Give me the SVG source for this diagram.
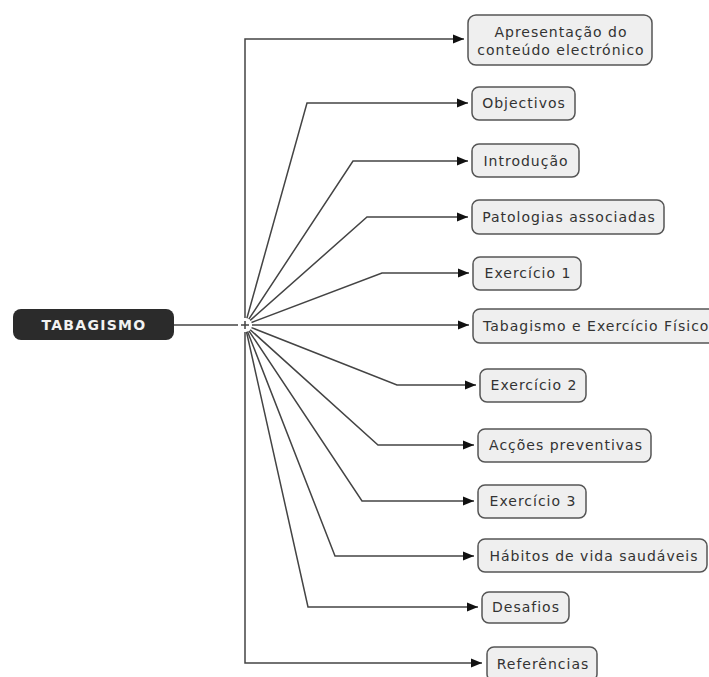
<svg xmlns="http://www.w3.org/2000/svg" width="709" height="677" viewBox="0 0 709 677">
<style>
.box{fill:#efefef;stroke:#555;stroke-width:1.5}
.t{font-family:"DejaVu Sans",Verdana,sans-serif;font-size:14px;letter-spacing:1px;fill:#333;text-anchor:middle}
.ln{fill:none;stroke:#444;stroke-width:1.5}
</style>
<defs>
<marker id="arr" markerUnits="userSpaceOnUse" markerWidth="12" markerHeight="10" refX="11" refY="5" orient="auto">
<path d="M0,0.5 L11,5 L0,9.5 z" fill="#111"/>
</marker>
</defs>
<rect width="709" height="677" fill="#fff"/>
<g id="connectors">
<line class="ln" x1="174" y1="325" x2="238" y2="325"/>
<path class="ln" d="M241,325 H249 M245,321 V329" stroke="#888"/>
<polyline class="ln" points="245,318 245,39 464,39" marker-end="url(#arr)"/>
<polyline class="ln" points="246.9,318.3 307,103 468,103" marker-end="url(#arr)"/>
<polyline class="ln" points="248.8,319.2 353,161 468,161" marker-end="url(#arr)"/>
<polyline class="ln" points="250.2,320.4 367,217 468,217" marker-end="url(#arr)"/>
<polyline class="ln" points="251.5,322.5 382,273 469,273" marker-end="url(#arr)"/>
<polyline class="ln" points="252,325 469,325" marker-end="url(#arr)"/>
<polyline class="ln" points="251.5,327.6 397,385 476,385" marker-end="url(#arr)"/>
<polyline class="ln" points="250.2,329.7 378,445 474,445" marker-end="url(#arr)"/>
<polyline class="ln" points="248.9,330.8 362,501 474,501" marker-end="url(#arr)"/>
<polyline class="ln" points="247.5,331.5 335,556 474,556" marker-end="url(#arr)"/>
<polyline class="ln" points="246.5,331.8 308,607 478,607" marker-end="url(#arr)"/>
<polyline class="ln" points="245,332 245,663 482,663" marker-end="url(#arr)"/>
</g>
<g id="n-tabagismo">
<rect x="13" y="309" width="161" height="31" rx="8" fill="#2b2b2b"/>
<text x="94" y="330" style="font-family:'DejaVu Sans',Verdana,sans-serif;font-size:14px;font-weight:bold;letter-spacing:1.3px;fill:#f2f2f2;text-anchor:middle">TABAGISMO</text>
</g>
<g id="n-apresentacao">
<rect class="box" x="468" y="15" width="184" height="50" rx="8"/>
<text class="t" x="561" y="37">Apresentação do</text>
<text class="t" x="561" y="55">conteúdo electrónico</text>
</g>
<g id="n-objectivos">
<rect class="box" x="472" y="87" width="103" height="33" rx="7"/>
<text class="t" x="524" y="108">Objectivos</text>
</g>
<g id="n-introducao">
<rect class="box" x="472" y="144" width="107" height="33" rx="7"/>
<text class="t" x="526" y="166">Introdução</text>
</g>
<g id="n-patologias">
<rect class="box" x="472" y="200" width="192" height="34" rx="7"/>
<text class="t" x="569" y="222">Patologias associadas</text>
</g>
<g id="n-exercicio1">
<rect class="box" x="473" y="257" width="108" height="33" rx="7"/>
<text class="t" x="528" y="278">Exercício 1</text>
</g>
<g id="n-tabexfis">
<rect class="box" x="473" y="309" width="245" height="34" rx="7"/>
<text class="t" x="483" y="331" style="text-anchor:start">Tabagismo e Exercício Físico</text>
</g>
<g id="n-exercicio2">
<rect class="box" x="480" y="369" width="106" height="33" rx="7"/>
<text class="t" x="534" y="390">Exercício 2</text>
</g>
<g id="n-accoes">
<rect class="box" x="478" y="429" width="173" height="33" rx="7"/>
<text class="t" x="566" y="450">Acções preventivas</text>
</g>
<g id="n-exercicio3">
<rect class="box" x="478" y="485" width="108" height="33" rx="7"/>
<text class="t" x="533" y="506">Exercício 3</text>
</g>
<g id="n-habitos">
<rect class="box" x="478" y="539" width="229" height="33" rx="7"/>
<text class="t" x="594" y="561">Hábitos de vida saudáveis</text>
</g>
<g id="n-desafios">
<rect class="box" x="482" y="592" width="87" height="31" rx="7"/>
<text class="t" x="526" y="612">Desafios</text>
</g>
<g id="n-referencias">
<rect class="box" x="487" y="647" width="110" height="34" rx="7"/>
<text class="t" x="543" y="669">Referências</text>
</g>
</svg>
